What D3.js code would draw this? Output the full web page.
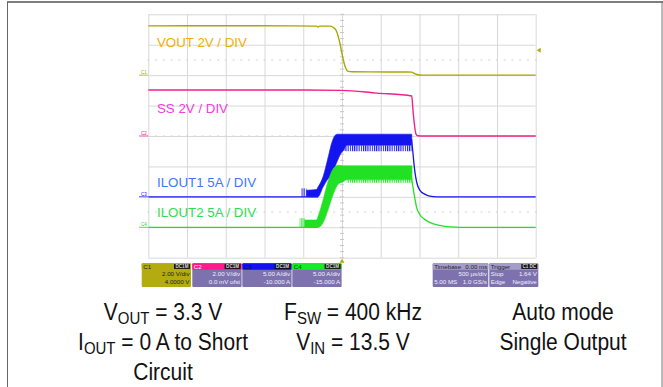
<!DOCTYPE html>
<html>
<head>
<meta charset="utf-8">
<script src="https://cdn.jsdelivr.net/npm/d3@7"></script>
<style>
  html, body { margin: 0; padding: 0; background: #fff; }
  svg { display: block; font-family: "Liberation Sans", Arial, sans-serif; }
</style>
</head>
<body>
<svg id="chart" width="663" height="387"></svg>
<script>
// ---- Acquisition settings (time in µs, 500 µs/div, trigger at screen centre) ----
const timeRange = [-2500, 2500];
const timeTicks = [-2500, -2000, -1500, -1000, -500, 0, 500, 1000, 1500, 2000, 2500];
const divTicks = [-4, -3, -2, -1, 0, 1, 2, 3, 4];
const dottedRows = [2.5, 0, -2.5];          // rows with minor-tick dashes (in divisions)

// ---- Channel scaling: value -> divisions = (value + offset) / perDiv ----
const channels = [
  { id: "C1", perDiv: 2, offset: 4,   color: "#a9a600" },
  { id: "C2", perDiv: 2, offset: 0,   color: "#f0208c" },
  { id: "C3", perDiv: 5, offset: -10, color: "#1414ee" },
  { id: "C4", perDiv: 5, offset: -15, color: "#22e024" }
];

// ---- C1: VOUT [µs, V] ----
const voutTrace = [
  [-2500, 3.24], [-1500, 3.25], [-600, 3.24], [-330, 3.22], [-310, 3.17], [-290, 3.22],
  [-155, 3.22], [-116, 3.15], [-77, 2.95], [-39, 2.35], [-13, 1.75], [17, 1.0],
  [45, 0.5], [77, 0.25], [129, 0.22], [600, 0.21], [903, 0.2], [929, 0.12],
  [968, 0.04], [1033, 0.0], [2500, 0.0]
];

// ---- C2: SS [µs, V] ----
const ssTrace = [
  [-2500, 3.02], [-500, 3.02], [0, 3.0], [450, 2.82], [900, 2.63],
  [916, 1.7], [936, 0.7], [955, 0.13], [981, 0.02], [1050, 0], [2500, 0]
];

// ---- C3: ILOUT1 [µs, A]; bands are [µs, top, bottom] ----
const ilout1Before = [[-2500, 0], [-310, 0]];
const ilout1Precursor = [[-524, 1.4, 0], [-459, 1.4, 0]];
const ilout1Solid = [
  [-459, 1.1, 0], [-330, 1.2, 0], [-310, 1.6, 0], [-245, 3.3, 1.6], [-177, 6.6, 3.0],
  [-134, 8.8, 3.6], [-90, 10.1, 5.0], [-60, 10.3, 5.9], [-20, 10.3, 7.0],
  [17, 10.3, 7.6], [60, 10.3, 8.5], [900, 10.3, 8.5]
];
const ilout1Ripple = [[17, 8.5, 7.6], [60, 8.5, 7.5], [900, 8.5, 7.5]];
const ilout1After = [
  [898, 9.5], [912, 7.7], [938, 4.4], [964, 2.4], [1003, 1.1], [1068, 0.44],
  [1132, 0.12], [1222, 0], [2500, 0]
];

// ---- C4: ILOUT2 [µs, A]; bands are [µs, top, bottom] ----
const ilout2Before = [[-2500, 0], [-306, 0]];
const ilout2Precursor = [[-546, 1.5, 0], [-480, 1.5, 0]];
const ilout2Solid = [
  [-480, 1.2, 0], [-330, 1.2, 0], [-306, 1.9, 0], [-241, 4.66, 0.82], [-177, 7.67, 3.0],
  [-112, 9.64, 5.47], [-48, 10.2, 7.1], [17, 10.1, 7.5], [60, 10.1, 7.8], [903, 10.1, 7.8]
];
const ilout2Ripple = [[60, 7.8, 7.3], [903, 7.8, 7.3]];
const ilout2After = [
  [899, 8.0], [917, 6.5], [938, 4.9], [964, 3.2], [1003, 2.1], [1068, 1.3],
  [1132, 0.8], [1261, 0.3], [1390, 0.05], [1523, 0], [2500, 0]
];

// ---- On-screen trace labels (placed at a level of their own channel) ----
const traceLabels = [
  { text: "VOUT 2V / DIV",   ch: 0, value: 1.87, color: "#f5ad00" },
  { text: "SS 2V / DIV",     ch: 1, value: 1.53, color: "#f040dc" },
  { text: "ILOUT1 5A / DIV", ch: 2, value: 1.64, color: "#3a78ff" },
  { text: "ILOUT2 5A / DIV", ch: 3, value: 1.7,  color: "#30dc50" }
];

// ---- Channel / timebase descriptor boxes ----
const channelBoxes = [
  { id: "C1", badge: "DC1M", line1: "2.00 V/div", line2: "4.0000 V" },
  { id: "C2", badge: "DC1M", line1: "2.00 V/div", line2: "0.0 mV ofst" },
  { id: "C3", badge: "DC1M", line1: "5.00 A/div", line2: "-10.000 A" },
  { id: "C4", badge: "DC1M", line1: "5.00 A/div", line2: "-15.000 A" }
];
const timebaseInfo = { title: "Timebase", delay: "0.00 ms", scale: "500 µs/div", rate: "5.00 MS", sample: "1.0 GS/s" };
const triggerInfo  = { title: "Trigger", badge: "C1 DC", mode: "Stop", level: "1.64 V", type: "Edge", slope: "Negative" };

// ---- Caption ----
const captionColumns = [
  [ [["V", ""], ["OUT", "sub"], [" = 3.3 V", ""]],
    [["I", ""], ["OUT", "sub"], [" = 0 A to Short", ""]],
    [["Circuit", ""]] ],
  [ [["F", ""], ["SW", "sub"], [" = 400 kHz", ""]],
    [["V", ""], ["IN", "sub"], [" = 13.5 V", ""]] ],
  [ [["Auto mode", ""]],
    [["Single Output", ""]] ]
];

// ================= drawing =================
const svg = d3.select("#chart");
const screen = { left: 148.3, right: 535.7, top: 14.3, bottom: 257.7 };

const x = d3.scaleLinear().domain(timeRange).range([screen.left, screen.right]);
const yDiv = d3.scaleLinear().domain([-4, 4]).range([screen.bottom, screen.top]);
const yCh = (c, v) => yDiv((v + channels[c].offset) / channels[c].perDiv);

// page frame
svg.append("line").attr("x1", 7).attr("x2", 663).attr("y1", 2).attr("y2", 2)
  .attr("stroke", "#555").attr("stroke-width", 1.6);
svg.append("line").attr("x1", 7.5).attr("x2", 7.5).attr("y1", 2).attr("y2", 387)
  .attr("stroke", "#666").attr("stroke-width", 1);
svg.append("line").attr("x1", 662).attr("x2", 662).attr("y1", 2).attr("y2", 387)
  .attr("stroke", "#777").attr("stroke-width", 1);

// graticule via axes
const grid = svg.append("g").attr("class", "grid");
grid.append("g")
  .attr("transform", `translate(0,${screen.bottom})`)
  .call(d3.axisBottom(x).tickValues(timeTicks).tickSize(-(screen.bottom - screen.top)).tickFormat(""))
  .call(g => g.select(".domain").remove());
grid.append("g")
  .attr("transform", `translate(${screen.left},0)`)
  .call(d3.axisLeft(yDiv).tickValues(divTicks).tickSize(-(screen.right - screen.left)).tickFormat(""))
  .call(g => g.select(".domain").remove());
grid.selectAll(".tick line").attr("stroke", "#d8d8d8").attr("stroke-width", 1);

// minor ticks along the centre vertical line
const minorY = d3.range(-4, 4.001, 0.2);
grid.append("g").selectAll("line").data(minorY).join("line")
  .attr("x1", x(0) - 2).attr("x2", x(0) + 2)
  .attr("y1", d => yDiv(d)).attr("y2", d => yDiv(d))
  .attr("stroke", "#c8c8c8");

// dashed rows
const minorX = d3.range(-2500, 2500.001, 100);
dottedRows.forEach(r => {
  grid.append("g").selectAll("line").data(minorX).join("line")
    .attr("x1", d => x(d) - 1).attr("x2", d => x(d) + 1)
    .attr("y1", yDiv(r)).attr("y2", yDiv(r))
    .attr("stroke", "#d2d2d2").attr("stroke-width", 1);
});

// patterns for switching-ripple regions
const defs = svg.append("defs");
channels.forEach((c, i) => {
  const p = defs.append("pattern").attr("id", "rip" + i)
    .attr("patternUnits", "userSpaceOnUse").attr("width", 2.2).attr("height", 4);
  p.append("rect").attr("width", 1.1).attr("height", 4).attr("fill", c.color);
});

const lineGen = c => d3.line().x(d => x(d[0])).y(d => yCh(c, d[1])).curve(d3.curveMonotoneX);
const areaGen = c => d3.area().x(d => x(d[0])).y0(d => yCh(c, d[2])).y1(d => yCh(c, d[1])).curve(d3.curveMonotoneX);

const traces = svg.append("g").attr("class", "traces");
function drawLine(c, data, w) {
  traces.append("path").datum(data).attr("d", lineGen(c))
    .attr("fill", "none").attr("stroke", channels[c].color).attr("stroke-width", w || 1.3);
}
function drawBand(c, data, ripple) {
  traces.append("path").datum(data).attr("d", areaGen(c))
    .attr("fill", ripple ? `url(#rip${c})` : channels[c].color)
    .attr("stroke", ripple ? "none" : channels[c].color).attr("stroke-width", ripple ? 0 : 0.6);
}

drawLine(0, voutTrace, 1.4);
drawLine(1, ssTrace, 1.4);

drawLine(2, ilout1Before);
drawBand(2, ilout1Precursor, true);
drawBand(2, ilout1Solid, false);
drawBand(2, ilout1Ripple, true);
drawLine(2, ilout1After);

drawLine(3, ilout2Before);
drawBand(3, ilout2Precursor, true);
drawBand(3, ilout2Solid, false);
drawBand(3, ilout2Ripple, true);
drawLine(3, ilout2After);

// trace labels
svg.append("g").selectAll("text").data(traceLabels).join("text")
  .attr("x", 157).attr("y", d => yCh(d.ch, d.value))
  .attr("fill", d => d.color).attr("font-size", 13.3)
  .text(d => d.text);

// channel ground markers on the left edge
channels.forEach((c, i) => {
  const yy = yCh(i, 0);
  svg.append("line").attr("x1", 139).attr("x2", 148).attr("y1", yy).attr("y2", yy)
    .attr("stroke", c.color).attr("stroke-width", 0.8);
  svg.append("text").attr("x", 141).attr("y", yy - 1).attr("font-size", 4.5)
    .attr("fill", c.color).text(c.id);
});

// trigger level (right) and trigger position (bottom) markers
const trigLevel = yCh(0, 1.64);
svg.append("path").attr("d", `M${screen.right + 1},${trigLevel} l4,-2.5 l0,5 z`).attr("fill", "#b0aa00");
svg.append("path").attr("d", `M${x(0)},${screen.bottom + 1} l-2.5,4 l5,0 z`).attr("fill", "#b0aa00");

// descriptor boxes
const boxTop = 263.3, boxH = 23.7, headH = 6.4;
const boxX = [141.7, 192.3, 242.3, 292.3], boxW = 49.3;
const headColors = ["#b3ab10", "#ff1a8c", "#1212f5", "#12ee22"];
const bodyColors = ["#b3ab10", "#7d72ae", "#7d72ae", "#7d72ae"];
const headText = ["#222", "#fff", "#0a0a60", "#0a400a"];
const bodyText = ["#222", "#f0f0ff", "#f0f0ff", "#f0f0ff"];
const boxes = svg.append("g").attr("font-size", 6.2);
channelBoxes.forEach((b, i) => {
  const g = boxes.append("g").attr("transform", `translate(${boxX[i]},${boxTop})`);
  g.append("rect").attr("width", boxW).attr("height", boxH).attr("rx", 1).attr("fill", bodyColors[i]);
  g.append("rect").attr("width", boxW).attr("height", headH).attr("rx", 1).attr("fill", headColors[i]);
  g.append("text").attr("x", 1.5).attr("y", 5.4).attr("fill", headText[i]).text(b.id);
  g.append("rect").attr("x", boxW - 17).attr("y", 0.8).attr("width", 16).attr("height", 4.8).attr("fill", "#111");
  g.append("text").attr("x", boxW - 9).attr("y", 5).attr("text-anchor", "middle").attr("font-size", 4.6)
    .attr("font-weight", "bold").attr("fill", "#ddd").text(b.badge);
  g.append("text").attr("x", boxW - 1.5).attr("y", 13).attr("text-anchor", "end").attr("fill", bodyText[i]).text(b.line1);
  g.append("text").attr("x", boxW - 1.5).attr("y", 20.5).attr("text-anchor", "end").attr("fill", bodyText[i]).text(b.line2);
});

// timebase box
{
  const g = boxes.append("g").attr("transform", `translate(432.7,${boxTop})`);
  const w = 55.6;
  g.append("rect").attr("width", w).attr("height", boxH).attr("rx", 1).attr("fill", "#7d72ae");
  g.append("rect").attr("width", w).attr("height", headH).attr("rx", 1).attr("fill", "#a59dc9");
  g.append("text").attr("x", 1.5).attr("y", 5.4).attr("fill", "#222").text(timebaseInfo.title);
  g.append("text").attr("x", w - 1).attr("y", 5.4).attr("text-anchor", "end").attr("fill", "#222").text(timebaseInfo.delay);
  g.append("text").attr("x", w - 1.5).attr("y", 13).attr("text-anchor", "end").attr("fill", "#f0f0ff").text(timebaseInfo.scale);
  g.append("text").attr("x", 1.5).attr("y", 20.5).attr("fill", "#f0f0ff").text(timebaseInfo.rate);
  g.append("text").attr("x", w - 1.5).attr("y", 20.5).attr("text-anchor", "end").attr("fill", "#f0f0ff").text(timebaseInfo.sample);
}
// trigger box
{
  const g = boxes.append("g").attr("transform", `translate(489.3,${boxTop})`);
  const w = 49;
  g.append("rect").attr("width", w).attr("height", boxH).attr("rx", 1).attr("fill", "#7d72ae");
  g.append("rect").attr("width", w).attr("height", headH).attr("rx", 1).attr("fill", "#a59dc9");
  g.append("text").attr("x", 1.5).attr("y", 5.4).attr("fill", "#222").text(triggerInfo.title);
  g.append("rect").attr("x", w - 17).attr("y", 0.8).attr("width", 16).attr("height", 4.8).attr("fill", "#111");
  g.append("text").attr("x", w - 9).attr("y", 5).attr("text-anchor", "middle").attr("font-size", 4.6)
    .attr("font-weight", "bold").attr("fill", "#ddd").text(triggerInfo.badge);
  g.append("text").attr("x", 1.5).attr("y", 13).attr("fill", "#f0f0ff").text(triggerInfo.mode);
  g.append("text").attr("x", w - 1.5).attr("y", 13).attr("text-anchor", "end").attr("fill", "#f0f0ff").text(triggerInfo.level);
  g.append("text").attr("x", 1.5).attr("y", 20.5).attr("fill", "#f0f0ff").text(triggerInfo.type);
  g.append("text").attr("x", w - 1.5).attr("y", 20.5).attr("text-anchor", "end").attr("fill", "#f0f0ff").text(triggerInfo.slope);
}

// caption (slightly tall lettering)
const colX = [163, 353, 563];
const rowY = [320, 350, 380];
const cap = svg.append("g").attr("font-size", 21).attr("fill", "#111").attr("text-anchor", "middle");
captionColumns.forEach((col, ci) => {
  col.forEach((row, ri) => {
    const t = cap.append("text")
      .attr("transform", `translate(${colX[ci]},${rowY[ri]}) scale(1,1.1)`);
    row.forEach(([s, kind]) => {
      const ts = t.append("tspan").text(s);
      if (kind === "sub") ts.attr("font-size", 15).attr("dy", 4);
      else if (t.selectAll("tspan").size() > 1) ts.attr("dy", -4);
    });
  });
});
</script>
</body>
</html>
